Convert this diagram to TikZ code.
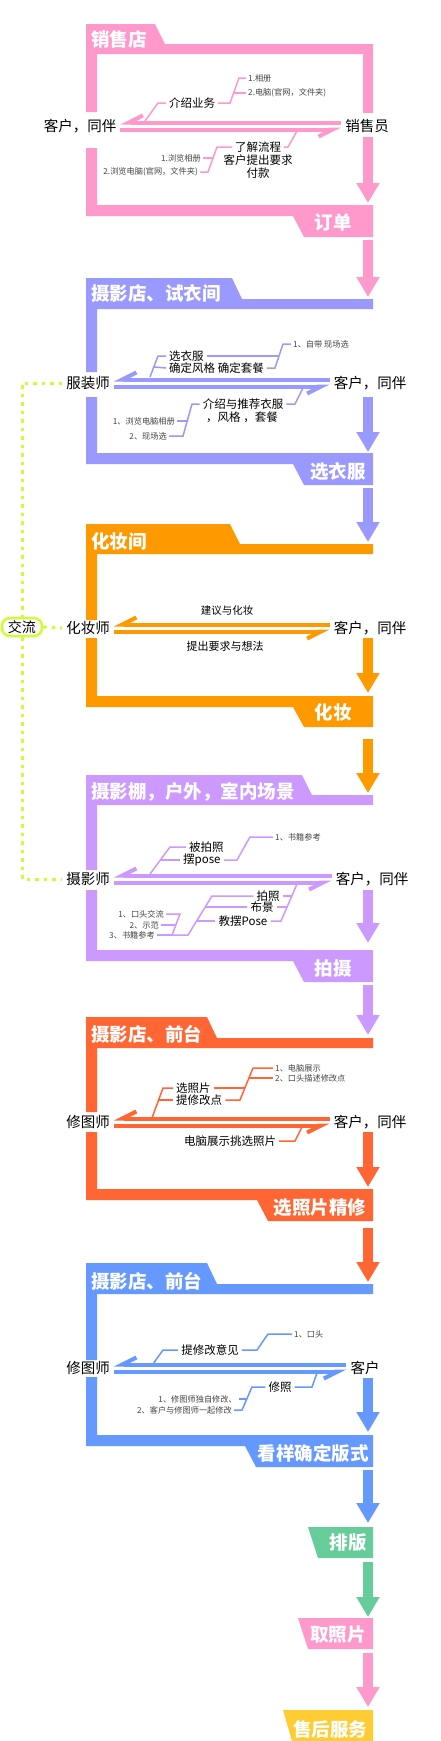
\documentclass[tikz,border=0pt]{standalone}
\usepackage{fontspec}
\setmainfont{Noto Sans CJK SC}
\usetikzlibrary{arrows.meta}
\definecolor{cpink}{HTML}{FF99CC}
\definecolor{cviolet}{HTML}{9999FF}
\definecolor{corange}{HTML}{FF9900}
\definecolor{clilac}{HTML}{CC99FF}
\definecolor{cred}{HTML}{FF6633}
\definecolor{cblue}{HTML}{6699FF}
\definecolor{cgreen}{HTML}{66CC99}
\definecolor{cyellow}{HTML}{FFCC33}
\definecolor{clime}{HTML}{CCFF33}
\definecolor{cgrey}{HTML}{444444}
\tikzset{
  hdr/.style={font=\fontsize{18.5}{20}\selectfont\bfseries, text=white, inner sep=0pt},
  who/.style={font=\fontsize{14.5}{16}\selectfont, inner xsep=4pt, inner ysep=1pt},
  midtext/.style={font=\fontsize{11.5}{13}\selectfont, inner xsep=3pt, inner ysep=0pt},
  memo/.style={font=\fontsize{8.2}{9}\selectfont, text=cgrey, inner xsep=2pt, inner ysep=0pt},
  cline/.style={draw=#1, line width=1.5pt},
  talk/.style={draw=#1, line width=4pt, -{Straight Barb[harpoon, swap, length=14pt, width=14pt]}},
  flow/.style={draw=#1, line width=10pt, -{Triangle[length=20pt, width=22pt]}},
  link/.style={draw=clime, line width=3pt, dash pattern=on 3.5pt off 5pt},
}

\begin{document}
\begin{tikzpicture}[x=1pt, y=-1pt]
  \fill[white] (0,0) rectangle (440,1741);
  \useasboundingbox (0,0) rectangle (440,1741);

  \foreach \clr/\ya/\hx/\yb/\ga/\gb/\yc/\fx/\yd in {
      cpink/24/155/44/112/148/205/293/237,
      cviolet/278/232/299/372/397/453/293/485,
      corange/524/230/544/620/638/696/293/727,
      clilac/775/302/795/870/890/950/293/982,
      cred/1017/207/1038/1112/1132/1189/257/1221,
      cblue/1263/207/1284/1360/1377/1435/245/1467} {
    \fill[\clr] (86,\ya) -- (\hx,\ya) -- (\hx+10,\yb) -- (373,\yb) -- (373,\yb+10)
      -- (97,\yb+10) -- (97,\ga) -- (86,\ga) -- cycle;
    \fill[\clr] (86,\gb) -- (97,\gb) -- (97,\yc) -- (373,\yc) -- (373,\yd)
      -- (\fx+11,\yd) -- (\fx,\yc+11) -- (86,\yc+11) -- cycle;
  }
  \fill[cpink] (363,54) rectangle (373,113);
  \fill[cgreen] (308,1527) -- (373,1527) -- (373,1558) -- (318,1558) -- cycle;
  \fill[cpink] (298,1618) -- (373,1618) -- (373,1649) -- (308,1649) -- cycle;
  \fill[cyellow] (283,1710) -- (373,1710) -- (373,1741) -- (292,1741) -- cycle;

  \foreach \clr/\ya/\yb in {cpink/137/203, cpink/240/297, cviolet/397/452, cviolet/488/542,
      corange/638/693, corange/739/793, clilac/890/943, clilac/985/1035, cred/1132/1187,
      cred/1228/1282, cblue/1378/1432, cblue/1470/1523, cgreen/1562/1617, cpink/1653/1707}
    \draw[flow=\clr] (368,\ya) -- (368,\yb);

  \node[hdr, anchor=west] (h1) at (91,39) {销售店};
  \node[hdr, anchor=west] (h2) at (91,293) {摄影店、试衣间};
  \node[hdr, anchor=west] (h3) at (91,541) {化妆间};
  \node[hdr, anchor=west] (h4) at (91,792) {摄影棚，户外，室内场景};
  \node[hdr, anchor=west] (h5) at (91,1034) {摄影店、前台};
  \node[hdr, anchor=west] (h6) at (91,1281) {摄影店、前台};
  \node[hdr] (f1) at (333,222) {订单};
  \node[hdr] (f2) at (338,471) {选衣服};
  \node[hdr] (f3) at (333,712) {化妆};
  \node[hdr] (f4) at (333,969) {拍摄};
  \node[hdr] (f5) at (320,1208) {选照片精修};
  \node[hdr] (f6) at (313,1453) {看样确定版式};
  \node[hdr] (f7) at (348,1543) {排版};
  \node[hdr] (f8) at (338,1635) {取照片};
  \node[hdr] (f9) at (330,1729) {售后服务};

  \node[who] (l1) at (80,126) {客户，同伴};
  \node[who] (r1) at (367,126) {销售员};
  \node[who] (l2) at (88,383) {服装师};
  \node[who] (r2) at (370,383) {客户，同伴};
  \node[who] (l3) at (88,628) {化妆师};
  \node[who] (r3) at (370,628) {客户，同伴};
  \node[who] (l4) at (88,879) {摄影师};
  \node[who] (r4) at (372,879) {客户，同伴};
  \node[who] (l5) at (88,1122) {修图师};
  \node[who] (r5) at (370,1122) {客户，同伴};
  \node[who] (l6) at (88,1368) {修图师};
  \node[who] (r6) at (365,1368) {客户};
  \foreach \clr/\a/\b in {cpink/l1/r1, cviolet/l2/r2, corange/l3/r3, clilac/l4/r4, cred/l5/r5, cblue/l6/r6} {
    \draw[talk=\clr] ([yshift=3.5pt]\b.west) -- ([yshift=3.5pt]\a.east);
    \draw[talk=\clr] ([yshift=-3.5pt]\a.east) -- ([yshift=-3.5pt]\b.west);
  }

  \node[draw=clime, line width=2.5pt, rounded corners=8pt, minimum width=40pt, minimum height=18pt,
    inner sep=1pt, font=\fontsize{14}{16}\selectfont] (jl) at (22,627) {交流};
  \draw[link] (l2.west) -| (jl.north);
  \draw[link] (jl.east) -- (l3.west);
  \draw[link] (jl.south) |- (l4.west);

  \node[midtext] (s1a) at (192,103) {介绍业务};
  \node[memo, anchor=west] (s1b) at (246,78) {1.相册};
  \node[memo, anchor=west] (s1c) at (246,93) {2.电脑(官网，文件夹)};
  \node[midtext] (s1d) at (258,147) {了解流程};
  \node[midtext] (s1e) at (258,160) {客户提出要求};
  \node[midtext] (s1f) at (258,173) {付款};
  \node[memo, anchor=east] (s1g) at (203,158) {1.浏览相册};
  \node[memo, anchor=east] (s1h) at (200,172) {2.浏览电脑(官网，文件夹)};
  \draw[cline=cpink] (145,121) -- (158,103) -- (s1a.west);
  \draw[cline=cpink] (s1a.east) -- (230,103) -- (239,78) -- (s1b.west);
  \draw[cline=cpink] (233.6,93) -- (s1c.west);
  \draw[cline=cpink] (297,131) -- (288,147) -- (s1d.east);
  \draw[cline=cpink] (s1d.west) -- (217,147) -- (208,172) -- (s1h.east);
  \draw[cline=cpink] (212.5,158) -- (s1g.east);

  \node[midtext, anchor=west] (s2a) at (166,356) {选衣服};
  \node[midtext, anchor=west] (s2b) at (166,368) {确定风格 确定套餐};
  \node[memo, anchor=west] (s2c) at (291,344) {1、自带 现场选};
  \node[midtext] (s2d) at (243,404) {介绍与推荐衣服};
  \node[midtext] (s2e) at (242,417) {，风格 ，套餐};
  \node[memo, anchor=east] (s2f) at (177,421) {1、浏览电脑相册};
  \node[memo, anchor=east] (s2g) at (169,436) {2、现场选};
  \draw[cline=cviolet] (150,377) -- (158,356) -- (s2a.west);
  \draw[cline=cviolet] (154,367) -- (s2b.west);
  \draw[cline=cviolet] (s2b.east) -- (275,368) -- (283,344) -- (s2c.west);
  \draw[cline=cviolet] (s2a.east) -- (279,356);
  \draw[cline=cviolet] (303,388) -- (295,404) -- (s2d.east);
  \draw[cline=cviolet] (s2d.west) -- (192,404) -- (183,436) -- (s2g.east);
  \draw[cline=cviolet] (187.5,421) -- (s2f.east);

  \node[font=\fontsize{10.5}{12}\selectfont] (s3a) at (227,611) {建议与化妆};
  \node[font=\fontsize{11}{13}\selectfont] (s3b) at (225,646) {提出要求与想法};

  \node[midtext, anchor=west] (s4a) at (186,847) {被拍照};
  \node[midtext, anchor=west] (s4b) at (180,860) {摆pose};
  \node[memo, anchor=west] (s4c) at (273,837) {1、书籍参考};
  \node[midtext] (s4d) at (268,896) {拍照};
  \node[midtext] (s4e) at (262,907) {布景};
  \node[midtext] (s4f) at (243,921) {教摆Pose};
  \node[memo, anchor=east] (s4g) at (166,914) {1、口头交流};
  \node[memo, anchor=east] (s4h) at (161,925) {2、示范};
  \node[memo, anchor=east] (s4i) at (157,935) {3、书籍参考};
  \draw[cline=clilac] (150,874) -- (170,847) -- (s4a.west);
  \draw[cline=clilac] (160.4,860) -- (s4b.west);
  \draw[cline=clilac] (s4b.east) -- (237,860) -- (250,837) -- (s4c.west);
  \draw[cline=clilac] (297,884) -- (281,921) -- (s4f.east);
  \draw[cline=clilac] (291,896) -- (s4d.east);
  \draw[cline=clilac] (286.5,907) -- (s4e.east);
  \draw[cline=clilac] (s4d.west) -- (212,896) -- (188,935) -- (172,935) -- (180,914) -- (s4g.east);
  \draw[cline=clilac] (s4e.west) -- (205,907);
  \draw[cline=clilac] (s4f.west) -- (197,921);
  \draw[cline=clilac] (176,925) -- (s4h.east);
  \draw[cline=clilac] (172,935) -- (s4i.east);

  \node[midtext, anchor=west] (s5a) at (173,1088) {选照片};
  \node[midtext, anchor=west] (s5b) at (173,1100) {提修改点};
  \node[memo, anchor=west] (s5c) at (273,1068) {1、电脑展示};
  \node[memo, anchor=west] (s5d) at (273,1078) {2、口头描述修改点};
  \node[midtext] (s5e) at (230,1141) {电脑展示挑选照片};
  \draw[cline=cred] (152,1118) -- (163,1088) -- (s5a.west);
  \draw[cline=cred] (158.6,1100) -- (s5b.west);
  \draw[cline=cred] (s5b.east) -- (240,1100) -- (253,1068) -- (s5c.west);
  \draw[cline=cred] (s5a.east) -- (245,1088);
  \draw[cline=cred] (249,1078) -- (s5d.west);
  \draw[cline=cred] (302,1127) -- (295,1141) -- (s5e.east);

  \node[midtext] (s6a) at (210,1350) {提修改意见};
  \node[memo, anchor=west] (s6b) at (292,1334) {1、口头};
  \node[midtext] (s6c) at (280,1387) {修照};
  \node[memo, anchor=east] (s6d) at (239,1399) {1、修图师独自修改、};
  \node[memo, anchor=east] (s6e) at (234,1410) {2、客户与修图师一起修改};
  \draw[cline=cblue] (153,1364) -- (163,1350) -- (s6a.west);
  \draw[cline=cblue] (s6a.east) -- (257,1350) -- (268,1334) -- (s6b.west);
  \draw[cline=cblue] (317,1373) -- (312,1387) -- (s6c.east);
  \draw[cline=cblue] (s6c.west) -- (252,1387) -- (242,1410) -- (s6e.east);
  \draw[cline=cblue] (247,1399) -- (s6d.east);
\end{tikzpicture}
\end{document}
